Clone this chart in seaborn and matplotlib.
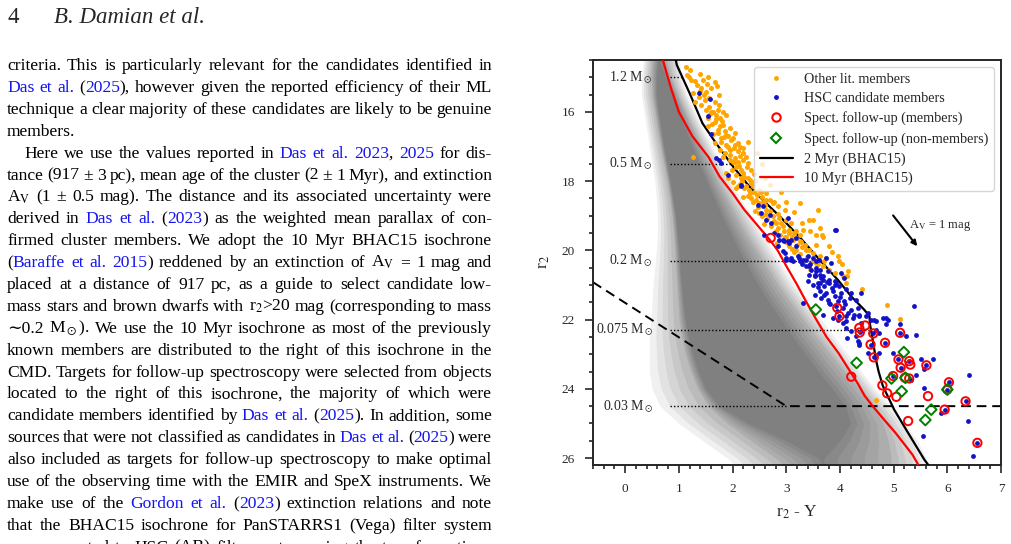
import numpy as np
import matplotlib
matplotlib.use("Agg")
import matplotlib.pyplot as plt
from matplotlib.lines import Line2D
import seaborn as sns

# ---------------- chart data ----------------
# 2 Myr BHAC15 isochrone (r2 - Y, r2)
iso2_col = [0.93, 0.96, 1.20, 1.44, 1.69, 2.02, 2.31, 2.62, 2.90, 3.24, 3.58, 3.96, 4.21, 4.45,
            4.55, 4.56, 4.61, 4.67, 4.72, 4.80, 5.01, 5.23, 5.57, 5.67]
iso2_mag = [14.40, 14.64, 15.46, 16.33, 16.90, 17.60, 18.15, 18.63, 19.05, 19.60, 20.20, 20.85, 21.33, 21.71,
            21.90, 22.14, 22.58, 23.15, 23.50, 23.92, 24.60, 25.17, 26.04, 26.25]
# 10 Myr BHAC15 isochrone
iso10_col = [0.68, 0.72, 0.85, 1.00, 1.25, 1.55, 1.76, 2.00, 2.22, 2.45, 2.70, 2.84, 3.00, 3.19, 3.36,
             3.53, 3.75, 3.97, 4.15, 4.33, 4.46, 4.61, 4.80, 5.05, 5.35, 5.48]
iso10_mag = [14.40, 14.60, 15.30, 16.00, 16.70, 17.30, 17.87, 18.35, 18.83, 19.25, 19.71, 20.00, 20.45, 20.96, 21.45,
             21.92, 22.50, 22.96, 23.40, 23.84, 24.20, 24.50, 24.85, 25.30, 25.90, 26.25]

# mass reference levels
mass_labels = ["1.2 M$_\\odot$", "0.5 M$_\\odot$", "0.2 M$_\\odot$", "0.075 M$_\\odot$", "0.03 M$_\\odot$"]
mass_mag = [15.0, 17.5, 20.3, 22.3, 24.5]

# survey limit (dashed)
limit_col = [-0.6, 3.0, 7.0]
limit_mag = [20.92, 24.5, 24.5]

# extinction vector
av_col = [4.99, 5.44]
av_mag = [18.99, 19.88]

# field population, drawn as nested density bands
field_mag = [14.4, 15.0, 15.5, 16.0, 16.5, 17.0, 17.5, 18.0, 18.5, 19.0, 19.5, 20.0, 20.5,
             21.0, 21.5, 22.0, 22.5, 23.0, 23.5, 24.0, 24.5, 25.0, 25.5, 26.0, 26.25]
halo_left = [0.35, 0.30, 0.30, 0.35, 0.40, 0.45, 0.50, 0.55, 0.58, 0.60, 0.60, 0.58, 0.55,
             0.52, 0.50, 0.48, 0.45, 0.45, 0.45, 0.50, 0.65, 1.00, 1.45, 1.90, 2.05]
halo_right = [1.00, 1.05, 1.15, 1.30, 1.45, 1.62, 1.80, 1.97, 2.15, 2.35, 2.55, 2.75, 2.95,
              3.15, 3.40, 3.65, 3.90, 4.15, 4.40, 4.65, 4.95, 5.20, 5.45, 5.60, 5.65]
mid_left = [0.50, 0.48, 0.50, 0.55, 0.60, 0.66, 0.72, 0.78, 0.83, 0.87, 0.90, 0.92, 0.94,
            0.96, 0.98, 1.00, 1.05, 1.12, 1.22, 1.35, 1.55, 1.90, 2.35, 2.80, 3.00]
mid_right = [0.75, 0.85, 0.98, 1.12, 1.27, 1.42, 1.57, 1.73, 1.90, 2.07, 2.25, 2.45, 2.65,
             2.85, 3.08, 3.32, 3.56, 3.82, 4.08, 4.35, 4.60, 4.80, 4.90, 4.95, 4.95]
core_left = [0.62, 0.58, 0.58, 0.62, 0.67, 0.72, 0.78, 0.84, 0.89, 0.94, 0.97, 1.00, 1.02,
             1.05, 1.08, 1.12, 1.18, 1.26, 1.36, 1.50, 1.75, 2.30, 3.00, 3.60, 3.70]
core_right = [0.62, 0.75, 0.88, 1.00, 1.12, 1.25, 1.38, 1.52, 1.66, 1.80, 1.96, 2.12, 2.30,
              2.48, 2.68, 2.90, 3.12, 3.36, 3.60, 3.86, 4.10, 4.20, 4.00, 3.70, 3.70]

# other literature members (orange)
lit_col = [1.13, 1.15, 1.23, 1.39, 1.45, 1.54, 1.67, 1.71, 1.33, 1.42, 1.51, 1.26, 1.38, 1.57, 1.67,
           1.57, 1.42, 1.50, 1.64, 1.76, 1.88, 1.54, 1.67, 1.82, 1.95, 1.73, 1.64, 1.88, 2.00, 1.79,
           1.67, 2.13, 1.91, 2.04, 2.29, 1.76, 2.10, 1.95, 1.82, 1.26, 2.04, 2.19, 2.29, 2.07, 1.98,
           2.16, 2.35, 1.88, 2.07, 2.22, 2.32, 2.00, 2.13, 2.25, 2.07,
           2.10, 2.22, 2.38, 2.50, 2.63, 2.29, 2.44, 2.57, 2.69, 2.75, 2.84, 2.97, 2.63, 2.50, 2.75,
           2.87, 3.00, 3.09, 2.81, 2.94, 3.06, 3.18, 3.25, 3.00, 3.12, 3.25, 3.34, 3.37, 3.18, 3.49,
           3.62, 3.74, 3.56, 3.68, 3.80, 3.90, 3.25, 3.43, 3.59, 3.62, 3.31, 3.56, 3.68, 3.80, 3.96,
           4.05, 4.11, 3.49, 3.67, 3.98, 4.14, 4.42, 4.88, 5.11, 4.67,
           2.05, 2.12, 2.20, 2.28, 2.35, 2.18, 2.40, 2.32, 2.45, 2.55, 2.38, 2.60, 2.48, 2.70, 2.55,
           2.65, 2.78, 2.90, 2.72, 2.85, 2.95, 3.05, 2.88, 3.10, 3.00, 3.20, 3.30, 3.10, 3.42, 3.25,
           3.38, 3.50, 1.60, 1.70, 1.80, 1.55, 1.85, 1.92, 1.78, 2.10, 1.95, 2.20, 2.00, 1.72, 1.48,
           1.30, 1.20, 1.60, 1.40, 1.75, 4.04, 4.15,
           1.58, 1.69, 1.62, 1.77, 1.72, 1.84, 1.97, 1.87, 2.02, 1.85, 2.14, 2.25, 1.95, 2.11, 2.27,
           2.40, 1.92, 2.15, 2.42, 2.30, 2.53, 2.20, 2.35, 2.62, 2.50, 2.78, 2.42, 2.63, 2.85, 2.58,
           2.80, 2.97, 3.15, 2.82, 3.05, 3.28, 3.15, 3.32, 3.60, 3.70, 3.45, 1.30, 1.46, 1.52, 1.18,
           1.75, 1.82, 2.05, 2.20, 2.45, 2.55, 2.60, 2.70, 2.90, 3.00, 3.15, 3.30, 3.45, 3.55, 3.85]
lit_mag = [14.71, 14.93, 15.08, 14.90, 15.08, 14.98, 15.13, 15.25, 15.22, 15.32, 15.41, 15.46, 15.56, 15.60, 15.70,
           15.85, 15.80, 15.94, 15.99, 16.18, 16.09, 16.18, 16.28, 16.38, 16.47, 16.52, 16.63, 16.66, 16.76, 16.86,
           16.90, 17.00, 17.02, 16.95, 16.86, 17.10, 17.14, 17.24, 17.29, 17.29, 17.34, 17.38, 17.48, 17.58, 17.67,
           17.67, 17.67, 17.77, 17.82, 17.87, 17.98, 18.01, 18.08, 18.15, 18.20,
           18.15, 18.20, 18.15, 18.25, 18.35, 18.44, 18.54, 18.59, 18.54, 18.63, 18.73, 18.83, 18.83, 18.92, 19.02,
           19.07, 19.12, 19.21, 19.21, 19.31, 19.40, 19.45, 19.55, 19.60, 19.69, 19.74, 19.84, 19.98, 19.98, 20.08,
           20.17, 20.22, 20.37, 20.46, 20.56, 20.65, 18.63, 19.12, 18.83, 19.36, 19.40, 19.55, 19.60, 19.88, 20.17,
           20.75, 20.94, 19.12, 19.55, 20.32, 20.75, 21.13, 21.57, 21.98, 24.31,
           17.45, 17.55, 17.75, 17.90, 18.05, 18.00, 18.30, 18.35, 18.40, 18.45, 18.60, 18.70, 18.75, 18.85, 19.00,
           19.10, 19.15, 19.20, 19.30, 19.35, 19.45, 19.50, 19.55, 19.62, 19.75, 19.85, 19.90, 19.95, 20.00, 20.10,
           20.20, 20.30, 16.00, 16.10, 16.25, 16.40, 16.55, 16.70, 16.75, 16.90, 17.10, 17.20, 17.45, 15.95, 15.65,
           15.10, 14.80, 15.30, 15.40, 15.50, 20.38, 20.60,
           16.05, 16.20, 16.35, 16.42, 16.60, 16.72, 16.82, 16.95, 17.05, 17.18, 17.26, 17.30, 17.40, 17.45, 17.60,
           17.80, 17.90, 17.92, 18.00, 18.25, 18.30, 18.45, 18.50, 18.55, 18.62, 18.60, 18.85, 18.95, 18.95, 19.25,
           19.45, 19.62, 19.50, 19.80, 19.88, 19.75, 20.05, 20.35, 20.40, 20.30, 20.55, 15.70, 15.50, 15.20, 15.00,
           15.80, 16.00, 16.60, 17.05, 17.20, 17.50, 17.90, 18.10, 18.30, 18.60, 18.90, 19.20, 19.45, 19.85, 20.05]

# HSC candidate members (blue)
hsc_col = [1.37, 1.58, 1.54, 1.60, 1.69, 1.74, 1.79, 1.91, 2.16, 2.16, 2.47, 2.57, 2.53, 2.69, 2.63, 2.72,
           3.03, 2.84, 2.94, 3.03, 3.09, 3.18, 2.84, 2.97, 3.00, 3.09, 3.22, 3.31, 3.40, 3.49, 3.55, 3.43,
           3.62, 3.53, 3.68, 3.80, 3.62, 3.90, 3.93, 2.59, 2.78, 2.87, 2.96, 3.05, 3.18, 3.09, 3.24,
           3.36, 3.61, 3.74, 3.84, 3.92, 2.94,
           3.00, 3.12, 3.25, 3.37, 3.46, 3.56, 3.43, 3.53, 3.62, 3.68, 3.40, 3.49, 3.59, 3.71, 3.80, 3.90,
           3.99, 3.87, 3.74, 3.62, 3.53, 3.65, 3.77, 3.90, 4.02, 4.11, 4.21, 3.96, 4.08, 4.18, 4.30, 3.80,
           3.93, 4.05, 4.21, 4.33, 3.31, 3.68, 3.87, 3.96, 4.11, 4.24, 4.36, 4.39, 4.49, 4.11, 4.21, 4.42,
           4.14, 4.33, 4.58, 4.67, 4.80, 4.89, 4.86, 4.39, 4.02, 4.08, 4.36,
           3.55, 3.65, 3.75, 3.85, 3.70, 3.90, 3.60, 3.82, 4.00, 4.10, 3.95, 4.15, 3.78, 3.45, 3.30,
           4.11, 4.27, 4.36, 4.05, 4.52, 4.86, 5.11, 4.67, 4.73, 4.30, 4.36, 4.52, 4.73, 4.98, 5.23,
           5.42, 5.51, 5.73, 5.42, 5.57, 5.32, 6.41, 5.57, 6.38, 5.88, 5.54, 6.47, 5.38, 4.63,
           4.37, 4.62, 4.63, 4.84, 5.12, 5.09, 5.29, 5.13, 5.61, 4.99, 6.03, 6.00, 6.34, 5.95, 6.56,
           3.99, 4.57]
hsc_mag = [15.46, 15.63, 16.13, 16.63, 17.34, 17.38, 17.48, 17.82, 18.13, 18.10, 18.68, 18.73, 18.92, 18.97, 19.12, 19.21,
           19.07, 19.55, 19.69, 19.74, 19.71, 19.64, 19.88, 20.08, 20.22, 20.22, 20.17, 20.27, 20.17, 20.22, 20.32, 20.46,
           20.56, 20.70, 20.75, 20.85, 20.94, 19.40, 20.94, 19.55, 19.50, 19.69, 19.74, 19.79, 19.88, 20.27, 20.22,
           20.27, 20.27, 20.22, 20.37, 19.40, 20.03,
           20.27, 20.32, 20.32, 20.46, 20.56, 20.51, 20.70, 20.75, 20.70, 20.85, 20.89, 20.99, 20.94, 21.04, 20.94, 20.89,
           21.04, 21.18, 21.23, 21.18, 21.28, 21.38, 21.42, 21.33, 21.23, 21.13, 21.23, 21.47, 21.47, 21.38, 21.42, 21.52,
           21.62, 21.66, 21.71, 21.66, 21.52, 21.86, 21.95, 22.00, 22.05, 21.95, 21.86, 22.10, 21.90, 22.24, 22.34, 22.29,
           22.53, 22.63, 22.00, 22.05, 21.95, 22.00, 22.14, 21.23, 20.65, 20.80, 22.72,
           20.60, 20.80, 20.90, 21.10, 21.30, 21.00, 21.05, 21.55, 21.35, 21.55, 21.75, 21.80, 20.60, 20.40, 20.40,
           21.90, 21.86, 21.90, 22.10, 21.81, 21.95, 22.14, 22.29, 22.38, 22.48, 22.67, 22.96, 22.96, 22.96, 22.48,
           22.43, 23.15, 23.15, 23.59, 23.44, 23.73, 23.59, 23.97, 24.93, 24.69, 25.37, 25.94, 21.62, 22.00,
           22.37, 22.40, 23.09, 22.67, 22.38, 23.15, 23.20, 23.39, 23.32, 23.63, 23.81, 24.02, 24.36, 24.60, 25.56,
           21.90, 22.72]

# spectroscopic follow-up, confirmed members (red circles)
mem_col = [2.71, 3.95, 3.99, 4.36, 4.37, 4.47, 4.62, 4.57, 4.63, 4.84, 5.12, 5.09, 5.29, 5.31, 5.13,
           5.61, 4.99, 5.21, 5.29, 4.21, 4.79, 4.88, 5.05, 5.64, 6.03, 6.00, 6.34, 5.95, 5.27, 6.56]
mem_mag = [19.64, 21.66, 21.90, 22.24, 22.37, 22.17, 22.40, 22.72, 23.09, 22.67, 22.38, 23.15, 23.20, 23.30, 23.39,
           23.32, 23.63, 23.68, 23.70, 23.65, 23.90, 24.13, 24.23, 24.21, 23.81, 24.02, 24.36, 24.60, 24.93, 25.56]

# spectroscopic follow-up, non-members (green diamonds)
non_col = [3.55, 4.31, 5.19, 4.96, 5.22, 5.15, 6.00, 5.70, 5.59]
non_mag = [21.71, 23.25, 22.94, 23.70, 23.68, 24.07, 24.02, 24.60, 24.90]

# ---------------- page text (left column) ----------------
header_num = "4"
header_authors = "B. Damian et al."
# {...} marks hyperlinked (blue) text
body_lines = [
    "criteria. This is particularly relevant for the candidates identified in",
    "{Das et al.} ({2025}), however given the reported efficiency of their ML",
    "technique a clear majority of these candidates are likely to be genuine",
    "members.",
    "Here we use the values reported in {Das et al. 2023}, {2025} for dis-",
    "tance (917 ± 3 pc), mean age of the cluster (2 ± 1 Myr), and extinction",
    "A$_\\mathrm{V}$ (1 ± 0.5 mag). The distance and its associated uncertainty were",
    "derived in {Das et al.} ({2023}) as the weighted mean parallax of con-",
    "firmed cluster members. We adopt the 10 Myr BHAC15 isochrone",
    "({Baraffe et al. 2015}) reddened by an extinction of A$_\\mathrm{V}$ = 1 mag and",
    "placed at a distance of 917 pc, as a guide to select candidate low-",
    "mass stars and brown dwarfs with r$_2$>20 mag (corresponding to mass",
    "∼0.2 M$_\\odot$). We use the 10 Myr isochrone as most of the previously",
    "known members are distributed to the right of this isochrone in the",
    "CMD. Targets for follow-up spectroscopy were selected from objects",
    "located to the right of this isochrone, the majority of which were",
    "candidate members identified by {Das et al.} ({2025}). In addition, some",
    "sources that were not classified as candidates in {Das et al.} ({2025}) were",
    "also included as targets for follow-up spectroscopy to make optimal",
    "use of the observing time with the EMIR and SpeX instruments. We",
    "make use of the {Gordon et al.} ({2023}) extinction relations and note",
    "that the BHAC15 isochrone for PanSTARRS1 (Vega) filter system",
    "was converted to HSC (AB) filter system using the transformations",
]
ragged_lines = [3]      # paragraph end, not justified
indented_lines = [4]    # paragraph start

# ---------------- style ----------------
sns.set_style("ticks")
plt.rcParams["font.family"] = ["Liberation Serif", "DejaVu Serif"]
plt.rcParams["mathtext.fontset"] = "stix"
plt.rcParams["axes.linewidth"] = 1.4

W, H = 1011, 544
fig = plt.figure(figsize=(W / 100, H / 100), dpi=100)
ax = fig.add_axes([593 / W, 1 - 465 / H, 408 / W, 405 / H])

# field stars as graded bands
hl, hr = np.array(halo_left), np.array(halo_right)
ml, mr = np.array(mid_left), np.array(mid_right)
cl, cr = np.array(core_left), np.array(core_right)
for t in np.linspace(0, 1, 6):
    g = 0.94 + t * (0.68 - 0.94)
    ax.fill_betweenx(field_mag, hl + t * (ml - hl), hr + t * (mr - hr), color=str(g), lw=0, zorder=1)
for t in np.linspace(0, 1, 6)[1:]:
    g = 0.68 + t * (0.50 - 0.68)
    ax.fill_betweenx(field_mag, ml + t * (cl - ml), mr + t * (cr - mr), color=str(g), lw=0, zorder=1)

# mass levels
iso2_end = np.interp(mass_mag, iso2_mag, iso2_col)
for lab, m, xe in zip(mass_labels, mass_mag, iso2_end):
    if m >= limit_mag[1]:
        xe = limit_col[1]
    ax.plot([0.83, xe], [m, m], ls=(0, (1, 1.5)), color="k", lw=1.0, zorder=2)
    ax.text(0.52, m, lab, ha="right", va="center", fontsize=10)

ax.plot(limit_col, limit_mag, ls=(0, (5, 3)), color="k", lw=1.4, zorder=2)

sns.lineplot(x=iso2_col, y=iso2_mag, sort=False, estimator=None, color="k", lw=1.6, ax=ax, zorder=4)
sns.lineplot(x=iso10_col, y=iso10_mag, sort=False, estimator=None, color="red", lw=1.6, ax=ax, zorder=4)

sns.scatterplot(x=lit_col, y=lit_mag, color="orange", s=13, linewidth=0, ax=ax, zorder=5)
sns.scatterplot(x=hsc_col, y=hsc_mag, color="#1212c8", s=12, linewidth=0, ax=ax, zorder=6)
ax.scatter(mem_col, mem_mag, s=36, facecolors="none", edgecolors="red", linewidths=1.4, zorder=7)
ax.scatter(non_col, non_mag, s=30, marker="D", facecolors="none", edgecolors="green", linewidths=1.4, zorder=7)

ax.annotate("", xy=(av_col[1], av_mag[1]), xytext=(av_col[0], av_mag[0]),
            arrowprops=dict(arrowstyle="-|>", color="k", lw=1.5, mutation_scale=8, shrinkA=0, shrinkB=0))
ax.text(5.29, 19.27, "A$_\\mathrm{V}$ = 1 mag", fontsize=9, va="center", ha="left")

ax.set_xlim(-0.6, 7.0)
ax.set_ylim(26.2, 14.5)
ax.set_xticks(range(0, 8))
ax.set_yticks(range(16, 27, 2))
ax.set_xticks(np.arange(-0.6, 7.01, 0.2), minor=True)
ax.set_yticks(np.arange(14.5, 26.21, 0.5), minor=True)
ax.tick_params(which="both", direction="out", top=False, right=False, width=1.2, labelsize=9.5)
ax.tick_params(which="major", length=6, pad=7)
ax.tick_params(which="minor", length=3)
ax.set_xlabel("r$_2$ - Y", fontsize=12.5, labelpad=6)
ax.set_ylabel("r$_2$", fontsize=12.5, labelpad=7)

handles = [
    Line2D([], [], ls="none", marker="o", ms=3.5, color="orange", mec="none"),
    Line2D([], [], ls="none", marker="o", ms=3.5, color="#1212c8", mec="none"),
    Line2D([], [], ls="none", marker="o", ms=6, mfc="none", mec="red", mew=1.5),
    Line2D([], [], ls="none", marker="D", ms=5.5, mfc="none", mec="green", mew=1.5),
    Line2D([], [], color="k", lw=1.6),
    Line2D([], [], color="red", lw=1.6),
]
labels = ["Other lit. members", "HSC candidate members", "Spect. follow-up (members)",
          "Spect. follow-up (non-members)", "2 Myr (BHAC15)", "10 Myr (BHAC15)"]
leg = ax.legend(handles, labels, loc="upper right", fontsize=10.2, handlelength=2.3,
                labelspacing=0.45, borderpad=0.4, frameon=True, framealpha=0.8, edgecolor="0.8")

# ---------------- left text column ----------------
LINK = "#1414f0"
renderer = fig.canvas.get_renderer()


def parse_words(s):
    words, cur, buf = [], [], ""
    blue = inmath = False
    for ch in s:
        if ch == "$":
            inmath = not inmath
            buf += ch
        elif ch in "{}" and not inmath:
            if buf:
                cur.append((buf, blue))
                buf = ""
            blue = ch == "{"
        elif ch == " " and not inmath:
            if buf:
                cur.append((buf, blue))
                buf = ""
            if cur:
                words.append(cur)
                cur = []
        else:
            buf += ch
    if buf:
        cur.append((buf, blue))
    if cur:
        words.append(cur)
    return words


def put_line(text, y_px, x0, x1, justify, size):
    words = parse_words(text)
    placed, widths = [], []
    for w in words:
        parts, ww = [], 0.0
        for piece, blue in w:
            t = fig.text(0, 0, piece, fontsize=size, color=LINK if blue else "black",
                         va="baseline", ha="left")
            parts.append((t, ww))
            ww += t.get_window_extent(renderer).width
        placed.append(parts)
        widths.append(ww)
    space = 0.25 * size * 100 / 72
    if justify and len(words) > 1:
        gap = max((x1 - x0 - sum(widths)) / (len(words) - 1), 0.5 * space)
    else:
        gap = space
    x = x0
    for parts, ww in zip(placed, widths):
        for t, off in parts:
            t.set_position(((x + off) / W, 1 - y_px / H))
        x += ww + gap


fig.text(7 / W, 1 - 23 / H, header_num, fontsize=16.5, va="baseline")
fig.text(54 / W, 1 - 23 / H, header_authors, fontsize=16.5, style="italic", va="baseline")

for i, line in enumerate(body_lines):
    y = 70 + i * 21.9
    x0 = 24 if i in indented_lines else 7
    put_line(line, y, x0, 492, i not in ragged_lines, 12.6)

fig.savefig("out.png", dpi=100)
